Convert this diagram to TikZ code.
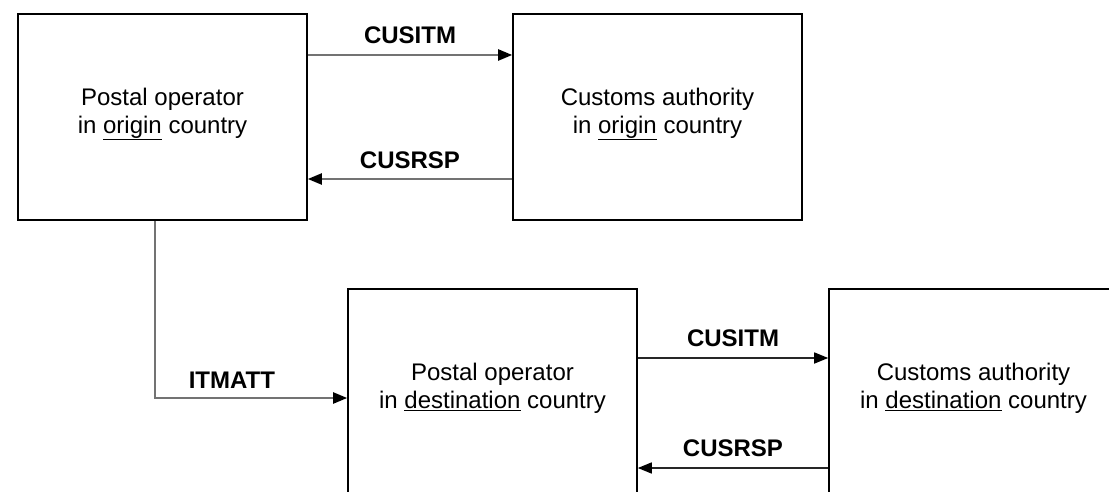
\documentclass[tikz,border=0pt]{standalone}
\usepackage{fontspec}
\setmainfont{Liberation Sans}
\usetikzlibrary{arrows.meta}
\begin{document}
\begin{tikzpicture}[x=1pt,y=-1pt,
  box/.style={draw=black,line width=1.6pt,minimum width=289pt,minimum height=206pt,
    align=center,inner sep=0pt,text depth=13pt,font=\fontsize{24}{28}\selectfont},
  conngray/.style={draw=black!55,line width=2.2pt,-{Triangle[length=14pt,width=11pt,color=black]}},
  conndark/.style={draw=black!85,line width=1.6pt,-{Triangle[length=14pt,width=11pt,color=black]}},
  lbl/.style={font=\fontsize{24}{28}\selectfont\bfseries,inner sep=2pt,text=black}]
\useasboundingbox (0,0) rectangle (1109,492);
\clip (0,0) rectangle (1109,492);
\fill[white] (0,0) rectangle (1109,492);
\node[box] (A) at (162.5,117) {Postal operator\\in \underline{origin} country};
\node[box] (B) at (657.5,117) {Customs authority\\in \underline{origin} country};
\node[box] (C) at (492.5,392) {Postal operator\\in \underline{destination} country};
\node[box] (D) at (973.5,392) {Customs authority\\in \underline{destination} country};
\draw[conngray] ([yshift=62pt]A.east) -- node[lbl,above=8pt] {CUSITM} ([yshift=62pt]B.west);
\draw[conngray] ([yshift=-62pt]B.west) -- node[lbl,above=7pt] {CUSRSP} ([yshift=-62pt]A.east);
\draw[conndark] ([yshift=34pt]C.east) -- node[lbl,above=8pt] {CUSITM} ([yshift=34pt]D.west);
\draw[conndark] ([yshift=-76pt]D.west) -- node[lbl,above=8pt] {CUSRSP} ([yshift=-76pt]C.east);
\draw[conngray] ([xshift=-7.5pt]A.south) |- node[lbl,pos=0.7,above=6pt] {ITMATT} ([yshift=-6pt]C.west);
\end{tikzpicture}
\end{document}
